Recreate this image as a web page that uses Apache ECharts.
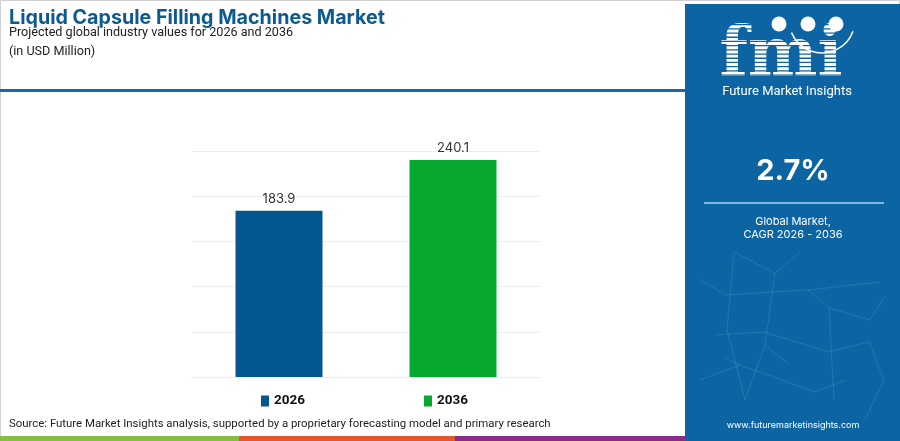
<!DOCTYPE html>
<html>
<head>
<meta charset="utf-8">
<script src="https://cdn.jsdelivr.net/npm/echarts@6/dist/echarts.min.js"></script>
<style>
html,body{margin:0;padding:0;background:#fff;}
#c{width:900px;height:441px;}
</style>
</head>
<body>
<div id="c"></div>
<script>
var years = ['2026', '2036'];
var values = [183.9, 240.1];
var barColors = ['#04588f', '#06a82e'];
var cagrText = '2.7%';
var titleText = 'Liquid Capsule Filling Machines Market';
var subtitleText = 'Projected global industry values for 2026 and 2036';
var unitText = '(in USD Million)';
var sourceText = 'Source: Future Market Insights analysis, supported by a proprietary forecasting model and primary research';

var chart = echarts.init(document.getElementById('c'));
var PANEL = '#0c64a3';
var FONT = 'Inter, Roboto, sans-serif';
var NFONT = 'Roboto, sans-serif';

var series = years.map(function (y, i) {
  return {
    name: y,
    type: 'bar',
    stack: 'one',
    barWidth: '50%',
    itemStyle: { color: barColors[i] },
    label: {
      show: true, position: 'top', distance: 5,
      color: '#333', fontSize: 13, fontFamily: FONT,
      formatter: function (p) { return p.value.toFixed(1); }
    },
    data: years.map(function (_, j) { return j === i ? values[i] : '-'; })
  };
});

// decorative network lines in the side panel
var net = [
  [[734,252],[727,330],[745,400]], [[734,252],[775,273],[800,252]],
  [[775,273],[765,345],[790,365]], [[700,280],[726,295],[808,290],[880,282]],
  [[808,290],[829,308],[870,320],[885,296]], [[715,335],[764,332],[829,352],[869,342]],
  [[723,357],[740,365],[815,392],[845,380]], [[829,308],[834,400]],
  [[765,345],[745,400]], [[869,342],[884,380],[865,420]], [[700,380],[740,365]]
];
var netGraphics = net.map(function (pts) {
  return { type: 'polyline', silent: true, z: 11, shape: { points: pts },
    style: { stroke: 'rgba(160,210,240,0.17)', lineWidth: 1, fill: null } };
});

// fmi logo stripes
var stripes = [];
for (var sy = 24; sy < 77; sy += 4.2) {
  stripes.push({ type: 'rect', silent: true, shape: { x: 716, y: sy, width: 132, height: 1.3 },
    style: { fill: PANEL }, z: 12 });
}

chart.setOption({
  animation: false,
  grid: { left: 192, right: 360, top: 151, bottom: 64 },
  xAxis: {
    type: 'category', data: years,
    axisLine: { show: true, lineStyle: { color: '#eeeeee' } },
    axisTick: { show: false }, axisLabel: { show: false }
  },
  yAxis: {
    type: 'value', min: 0, max: 250, interval: 50,
    axisLabel: { show: false }, axisLine: { show: false }, axisTick: { show: false },
    splitLine: { lineStyle: { color: '#eeeeee' } }
  },
  legend: {
    data: years, left: 256, top: 389, itemGap: 119,
    itemWidth: 8, itemHeight: 11, icon: 'rect',
    textStyle: { fontSize: 13.5, fontWeight: 'bold', color: '#111', fontFamily: NFONT }
  },
  series: series,
  graphic: [
    { type: 'rect', silent: true, shape: { x: 0.5, y: 0.5, width: 899, height: 440 },
      style: { fill: null, stroke: '#d0d0d0', lineWidth: 1 }, z: 0 },
    { type: 'text', left: 9, top: 8, style: { text: titleText, fill: '#0b5a92',
      font: 'bold 19.7px ' + FONT } },
    { type: 'text', left: 9, top: 26, style: { text: subtitleText, fill: '#222',
      font: '12.6px ' + NFONT } },
    { type: 'text', left: 9, top: 45, style: { text: unitText, fill: '#222',
      font: '12.6px ' + NFONT } },
    { type: 'rect', silent: true, shape: { x: 0, y: 89, width: 686, height: 3 },
      style: { fill: '#1a6aab' } },
    { type: 'rect', silent: true, shape: { x: 685, y: 4, width: 215, height: 437 },
      style: { fill: PANEL }, z: 10 },
    { type: 'text', silent: true, x: 781, y: 58, z: 11, scaleX: 0.94, originX: 0, originY: 0,
      style: { text: 'fmi', fill: '#fff', font: 'bold 70px "DejaVu Serif", serif',
        align: 'center', verticalAlign: 'middle' } }
  ].concat(stripes).concat([
    { type: 'circle', silent: true, shape: { cx: 779, cy: 24, r: 7.5 }, style: { fill: '#fff' }, z: 13 },
    { type: 'circle', silent: true, shape: { cx: 808, cy: 24, r: 7.5 }, style: { fill: '#fff' }, z: 13 },
    { type: 'circle', silent: true, shape: { cx: 836, cy: 24, r: 7.5 }, style: { fill: '#fff' }, z: 13 },
    { type: 'arc', silent: true, shape: { cx: 822, cy: 20, r: 33, startAngle: 0.35, endAngle: 2.75 },
      style: { stroke: '#fff', lineWidth: 1.5, fill: null }, z: 13 },
    { type: 'text', silent: true, x: 787, y: 92, z: 13,
      style: { text: 'Future Market Insights', fill: '#fff', font: '13px Roboto, sans-serif',
        align: 'center', verticalAlign: 'middle' } },
    { type: 'text', silent: true, x: 793, y: 171, z: 13,
      style: { text: cagrText, fill: '#fff', font: 'bold 29px ' + FONT,
        align: 'center', verticalAlign: 'middle' } },
    { type: 'rect', silent: true, shape: { x: 704, y: 202, width: 180, height: 2 },
      style: { fill: '#7fb6e0' }, z: 13 },
    { type: 'text', silent: true, x: 793, y: 222, z: 13,
      style: { text: 'Global Market,', fill: '#fff', font: '11px ' + FONT,
        align: 'center', verticalAlign: 'middle' } },
    { type: 'text', silent: true, x: 793, y: 235, z: 13,
      style: { text: 'CAGR 2026 - 2036', fill: '#fff', font: '11px ' + FONT,
        align: 'center', verticalAlign: 'middle' } },
    { type: 'text', silent: true, x: 793, y: 425, z: 13,
      style: { text: 'www.futuremarketinsights.com', fill: '#fff', font: '9px ' + FONT,
        align: 'center', verticalAlign: 'middle' } },
    { type: 'text', left: 9, top: 419, style: { text: sourceText, fill: '#222',
      font: '11.4px ' + NFONT } },
    { type: 'rect', silent: true, shape: { x: 0, y: 436, width: 239, height: 5 }, style: { fill: '#86bd45' } },
    { type: 'rect', silent: true, shape: { x: 239, y: 436, width: 216, height: 5 }, style: { fill: '#e5562c' } },
    { type: 'rect', silent: true, shape: { x: 455, y: 436, width: 230, height: 5 }, style: { fill: '#8b2a88' } }
  ]).concat(netGraphics)
});
</script>
</body>
</html>
